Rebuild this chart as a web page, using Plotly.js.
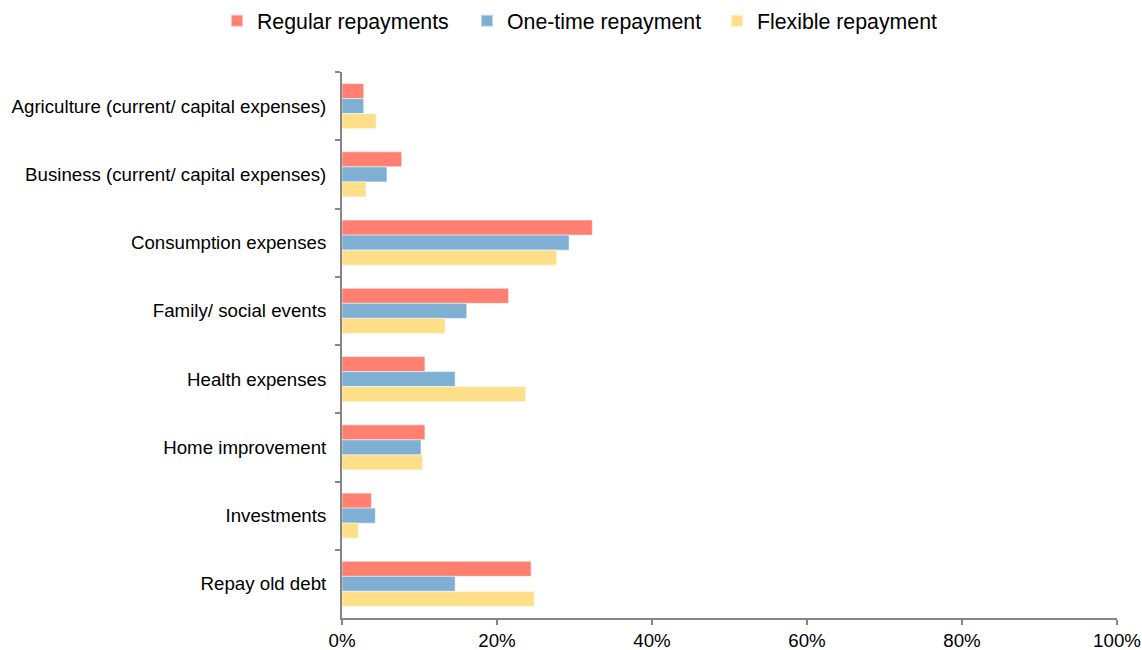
<!DOCTYPE html>
<html>
<head>
<meta charset="utf-8">
<script src="https://cdn.plot.ly/plotly-3.0.1.min.js"></script>
<style>html,body{margin:0;padding:0;background:#fff;}#chart{width:1142px;height:650px;}</style>
</head>
<body>
<div id="chart"></div>
<script>
const categories = [
  "Agriculture (current/ capital expenses)",
  "Business (current/ capital expenses)",
  "Consumption expenses",
  "Family/ social events",
  "Health expenses",
  "Home improvement",
  "Investments",
  "Repay old debt"
];
const regular = [0.028, 0.077, 0.323, 0.215, 0.107, 0.107, 0.038, 0.244];
const oneTime = [0.028, 0.058, 0.293, 0.161, 0.146, 0.102, 0.043, 0.146];
const flexible = [0.044, 0.031, 0.277, 0.133, 0.237, 0.104, 0.021, 0.248];
const seriesNames = ["Regular repayments", "One-time repayment", "Flexible repayment"];
const seriesColors = ["#FF8070", "#7FB0D3", "#FFDE8A"];
const seriesValues = [regular, oneTime, flexible];

const traces = seriesValues.map((vals, i) => ({
  type: "bar",
  orientation: "h",
  name: seriesNames[i],
  y: categories,
  x: vals,
  marker: {color: seriesColors[i], line: {color: "rgba(255,255,255,0.5)", width: 1}},
  hoverinfo: "x+y+name"
}));

const layout = {
  width: 1142,
  height: 650,
  margin: {l: 342, r: 25, t: 72, b: 32, pad: 0},
  paper_bgcolor: "#fff",
  plot_bgcolor: "#fff",
  font: {family: "Liberation Sans, Arial, sans-serif", size: 18.7, color: "#000"},
  barmode: "group",
  bargap: 0.34,
  bargroupgap: 0,
  showlegend: true,
  legend: {
    orientation: "h",
    xref: "container", yref: "container",
    x: 0.19, xanchor: "left",
    y: 1 - 21/650, yanchor: "middle",
    font: {size: 21.3, color: "#000"},
    entrywidth: 205,
    entrywidthmode: "pixels",
    itemsizing: "constant",
    traceorder: "normal"
  },
  xaxis: {
    range: [0, 1],
    dtick: 0.2,
    tick0: 0,
    tickformat: ".0%",
    showgrid: false,
    zeroline: false,
    showline: true,
    linecolor: "#868686",
    linewidth: 2,
    ticks: "outside",
    ticklen: 5,
    tickwidth: 2,
    tickcolor: "#868686",
    tickfont: {size: 18.7},
    fixedrange: true
  },
  yaxis: {
    type: "category",
    autorange: "reversed",
    showgrid: false,
    zeroline: false,
    showline: true,
    linecolor: "#868686",
    linewidth: 2,
    ticks: "outside",
    tickson: "boundaries",
    ticklen: 5,
    tickwidth: 2,
    tickcolor: "#868686",
    tickfont: {size: 18.7},
    ticklabelstandoff: 10,
    fixedrange: true
  }
};

Plotly.newPlot("chart", traces, layout, {displayModeBar: false, staticPlot: true});
</script>
</body>
</html>
